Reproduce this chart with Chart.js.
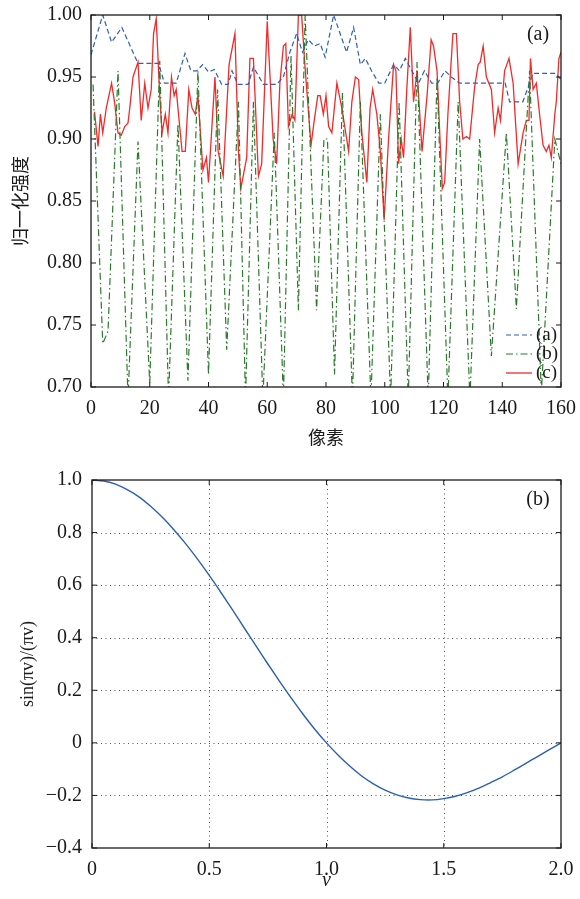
<!DOCTYPE html>
<html>
<head>
<meta charset="utf-8">
<script src="https://cdn.jsdelivr.net/npm/chart.js@4"></script>
<style>
  body { margin: 0; background: #fff; }
  .box { position: absolute; left: 0; }
</style>
</head>
<body>
<div class="box" style="top:0"><canvas id="topChart" width="580" height="450"></canvas></div>
<div class="box" style="top:450px"><canvas id="botChart" width="580" height="449"></canvas></div>
<script>
// (a) blue dashed
const aX = [0,4,7,10.5,16,23,25,29,32,34,36,38,40,42,44.5,46.7,48,50,53.5,55.3,58.7,63.2,65.5,67.7,70,72,74,76,78,79.7,82.6,87,89.4,91.7,93.4,95.5,98,100,103,105,107,111.5,113.5,116,118,120.5,122.7,125.5,141,142.5,147,149.3,150.5,158,160];
const aY = [0.968,1.0,0.978,0.99,0.961,0.961,0.945,0.945,0.969,0.955,0.955,0.96,0.954,0.956,0.944,0.944,0.955,0.944,0.944,0.958,0.944,0.944,0.95,0.97,0.985,0.97,0.98,0.975,0.977,0.966,1.0,0.97,0.99,0.96,0.965,0.955,0.945,0.945,0.96,0.955,0.965,0.945,0.955,0.945,0.945,0.955,0.95,0.945,0.945,0.93,0.93,0.945,0.953,0.953,0.948];
// (b) green dash-dot
const bX = [0.7,4,5.8,9.2,12.6,16,20,23.4,26.4,29.6,33,36.4,40,43.1,46.2,50.2,52.6,55.3,58.5,62.4,65.5,68.1,70.6,72.9,76.8,79.3,80.5,82.9,85.6,89,91.7,95.3,98.5,102,104.9,108,111,114.8,117.8,121.5,125,129,132.3,136.3,141.4,144.8,149.3,153.3,157.9,160];
const bY = [0.944,0.735,0.745,0.955,0.69,0.898,0.703,0.963,0.69,0.912,0.705,0.955,0.71,0.94,0.73,0.93,0.69,0.93,0.69,0.905,0.69,0.967,0.762,1.0,0.762,0.9,0.9,0.71,0.937,0.69,0.93,0.69,0.92,0.69,0.93,0.69,0.962,0.69,0.95,0.69,0.93,0.69,0.9,0.725,0.905,0.763,0.955,0.695,0.9,0.88];
// (c) red solid
const cX = [1.2,2.4,3.2,4,5.2,7,8,9.2,10.3,11.5,12.6,13.2,14.3,16,17.1,18.3,19.4,20.5,21.3,22.2,23.4,24.2,25.3,26.2,27.4,28.3,29,31,32.1,33.3,34.4,35.5,36.4,38.1,39.3,40,42.2,43.3,45,47,49,50.2,51,53,54.1,55.3,57,58.1,60,62,63.2,64.3,65.5,66.3,67.2,68.5,69.4,70.6,71.7,72.8,74.9,76,77.2,78,79.1,80,80.9,82,83.7,85.4,87.7,88.8,90,91.1,92.2,93.9,95,95.9,97.3,98.5,99.8,101.3,103,103.8,104.7,105.6,106.4,107.5,108.7,109.8,111,112.7,114.4,115.8,116.6,117.8,118.9,119.6,120.4,121.5,123.2,124.4,125.5,126.6,127.8,128.9,130.6,131.8,132.5,133.5,134.6,136.3,137.4,138.6,139.4,140.8,142.3,143.7,145.4,147.1,148.2,149.1,149.6,150.5,151.6,152.7,153.9,155,155.9,156.7,157.9,158.4,159.3,160];
const cY = [0.922,0.894,0.92,0.905,0.925,0.945,0.93,0.905,0.903,0.91,0.913,0.925,0.95,0.962,0.915,0.945,0.925,0.94,0.985,0.997,0.935,0.905,0.92,0.905,0.95,0.935,0.94,0.89,0.89,0.94,0.925,0.92,0.935,0.875,0.885,0.865,0.95,0.89,0.87,0.96,0.985,0.89,0.86,0.885,0.965,0.965,0.87,0.88,0.995,0.9,0.88,0.945,0.975,0.977,0.91,0.92,0.915,1.0,1.0,0.96,0.895,0.915,0.935,0.935,0.92,0.935,0.91,0.905,0.945,0.925,0.89,0.93,0.95,0.948,0.905,0.865,0.925,0.94,0.92,0.89,0.835,0.9,0.96,0.955,0.88,0.9,0.885,0.94,0.99,0.93,0.955,0.89,0.935,0.98,0.975,0.955,0.895,0.86,0.865,0.92,0.985,0.985,0.93,0.9,0.902,0.9,0.942,0.96,0.962,0.975,0.95,0.94,0.905,0.925,0.915,0.955,0.965,0.945,0.88,0.905,0.915,0.915,0.965,0.94,0.945,0.92,0.895,0.89,0.895,0.885,0.92,0.93,0.965,0.97];
const seriesLabels = ['(a)', '(b)', '(c)'];
const topXTicks = [0,20,40,60,80,100,120,140,160];
const topYTicks = [0.70,0.75,0.80,0.85,0.90,0.95,1.00];

// bottom panel: sin(πv)/(πv)
const vVals = [0,0.05,0.1,0.15,0.2,0.25,0.3,0.35,0.4,0.45,0.5,0.55,0.6,0.65,0.7,0.75,0.8,0.85,0.9,0.95,1.0,1.05,1.1,1.15,1.2,1.25,1.3,1.35,1.4,1.45,1.5,1.55,1.6,1.65,1.7,1.75,1.8,1.85,1.9,1.95,2.0];
const sincVals = [1,0.996,0.984,0.963,0.936,0.900,0.858,0.810,0.757,0.699,0.637,0.572,0.505,0.436,0.368,0.300,0.234,0.170,0.109,0.052,0,-0.047,-0.089,-0.126,-0.156,-0.180,-0.198,-0.210,-0.216,-0.217,-0.212,-0.203,-0.189,-0.172,-0.151,-0.129,-0.104,-0.078,-0.052,-0.026,0];
const botXTicks = [0,0.5,1.0,1.5,2.0];
const botYTicks = [-0.4,-0.2,0,0.2,0.4,0.6,0.8,1.0];

const serif = "'Liberation Serif', 'DejaVu Serif', serif";
const cjk = "'Noto Sans CJK SC', sans-serif";
const ink = '#1a1a1a';

function pts(xs, ys) {
  return xs.map((x, i) => ({ x: x, y: ys[i] }));
}

function fixedTicks(list) {
  return function(scale) {
    scale.ticks = list.map(v => ({ value: v }));
  };
}

function numLabel(dec) {
  return function(v) {
    if (dec === 1 && Math.abs(v) < 1e-9) return '0';
    const s = Number(v).toFixed(dec);
    return s.replace('-', '\u2212');
  };
}

// fix axis box sizes and drop label-overflow padding so the plot box lands exactly
function fitX(h) {
  return function(s) { s.height = h; s.paddingLeft = 0; s.paddingRight = 0; };
}
function fitY(w) {
  return function(s) { s.width = w; s.paddingTop = 0; s.paddingBottom = 0; };
}

// frame, inward ticks, optional dotted grid, panel tag and inline legend
const framePlugin = {
  id: 'frame',
  beforeDatasetsDraw(chart, args, opts) {
    if (!opts.grid) return;
    const ctx = chart.ctx;
    const ca = chart.chartArea;
    const xs = chart.scales.x, ys = chart.scales.y;
    ctx.save();
    ctx.strokeStyle = '#555';
    ctx.lineWidth = 1;
    ctx.setLineDash([1, 3.5]);
    xs.ticks.forEach(t => {
      if (t.value <= xs.min || t.value >= xs.max) return;
      const px = Math.round(xs.getPixelForValue(t.value)) + 0.5;
      ctx.beginPath(); ctx.moveTo(px, ca.top); ctx.lineTo(px, ca.bottom); ctx.stroke();
    });
    ys.ticks.forEach(t => {
      if (t.value <= ys.min || t.value >= ys.max) return;
      const py = Math.round(ys.getPixelForValue(t.value)) + 0.5;
      ctx.beginPath(); ctx.moveTo(ca.left, py); ctx.lineTo(ca.right, py); ctx.stroke();
    });
    ctx.restore();
  },
  afterDraw(chart, args, opts) {
    const ctx = chart.ctx;
    const ca = chart.chartArea;
    const xs = chart.scales.x, ys = chart.scales.y;
    const tl = 5;
    ctx.save();
    ctx.strokeStyle = ink;
    ctx.lineWidth = 1.3;
    ctx.strokeRect(ca.left, ca.top, ca.right - ca.left, ca.bottom - ca.top);
    ctx.lineWidth = 1;
    xs.ticks.forEach(t => {
      const px = xs.getPixelForValue(t.value);
      ctx.beginPath();
      ctx.moveTo(px, ca.bottom); ctx.lineTo(px, ca.bottom - tl);
      ctx.moveTo(px, ca.top); ctx.lineTo(px, ca.top + tl);
      ctx.stroke();
    });
    ys.ticks.forEach(t => {
      const py = ys.getPixelForValue(t.value);
      ctx.beginPath();
      ctx.moveTo(ca.left, py); ctx.lineTo(ca.left + tl, py);
      ctx.moveTo(ca.right, py); ctx.lineTo(ca.right - tl, py);
      ctx.stroke();
    });

    ctx.fillStyle = ink;
    ctx.font = '20px ' + serif;
    ctx.textAlign = 'center';
    ctx.textBaseline = 'middle';
    if (opts.tag) ctx.fillText(opts.tag, ca.right - 23, ca.top + 20);

    if (opts.legend) {
      ctx.font = '19px ' + serif;
      ctx.textAlign = 'left';
      chart.data.datasets.forEach((ds, i) => {
        const y = ca.bottom - 52 + i * 19;
        ctx.save();
        ctx.strokeStyle = ds.borderColor;
        ctx.lineWidth = ds.borderWidth;
        ctx.setLineDash(ds.borderDash || []);
        ctx.beginPath(); ctx.moveTo(ca.right - 55, y); ctx.lineTo(ca.right - 29, y); ctx.stroke();
        ctx.restore();
        ctx.fillText(ds.label, ca.right - 25, y);
      });
    }
    ctx.restore();
  }
};

new Chart(document.getElementById('topChart'), {
  type: 'line',
  data: {
    datasets: [
      { label: seriesLabels[0], data: pts(aX, aY), borderColor: '#2f5fb3', borderWidth: 1.2, borderDash: [5, 3] },
      { label: seriesLabels[1], data: pts(bX, bY), borderColor: '#2b7a2b', borderWidth: 1.2, borderDash: [7, 3, 1.5, 3] },
      { label: seriesLabels[2], data: pts(cX, cY), borderColor: '#f22a2a', borderWidth: 1.3 }
    ]
  },
  options: {
    responsive: false,
    animation: false,
    layout: { padding: { top: 15, right: 19, left: 0, bottom: 0 } },
    elements: { point: { radius: 0 }, line: { tension: 0 } },
    plugins: {
      legend: { display: false },
      tooltip: { enabled: false },
      frame: { tag: '(a)', legend: true, grid: false }
    },
    scales: {
      x: {
        type: 'linear', min: 0, max: 160,
        afterBuildTicks: fixedTicks(topXTicks),
        afterFit: fitX(63),
        grid: { display: false, drawTicks: false },
        border: { display: false },
        ticks: { color: ink, font: { family: serif, size: 20 }, padding: 10, maxRotation: 0, autoSkip: false, callback: v => String(v) },
        title: { display: true, text: '像素', color: ink, font: { family: cjk, size: 18 }, padding: { top: 0, bottom: 2 } }
      },
      y: {
        min: 0.7, max: 1.0,
        afterBuildTicks: fixedTicks(topYTicks),
        afterFit: fitY(91),
        grid: { display: false, drawTicks: false },
        border: { display: false },
        ticks: { color: ink, font: { family: serif, size: 20 }, padding: 9, autoSkip: false, callback: numLabel(2) },
        title: { display: true, text: '归一化强度', color: ink, font: { family: cjk, size: 18 }, padding: { top: 9, bottom: 0 } }
      }
    }
  },
  plugins: [framePlugin]
});

new Chart(document.getElementById('botChart'), {
  type: 'line',
  data: {
    datasets: [
      { label: 'sinc', data: pts(vVals, sincVals), borderColor: '#2b5fb3', borderWidth: 1.4 }
    ]
  },
  options: {
    responsive: false,
    animation: false,
    layout: { padding: { top: 30, right: 19, left: 0, bottom: 0 } },
    elements: { point: { radius: 0 }, line: { tension: 0.3 } },
    plugins: {
      legend: { display: false },
      tooltip: { enabled: false },
      frame: { tag: '(b)', legend: false, grid: true }
    },
    scales: {
      x: {
        type: 'linear', min: 0, max: 2,
        afterBuildTicks: fixedTicks(botXTicks),
        afterFit: fitX(51),
        grid: { display: false, drawTicks: false },
        border: { display: false },
        ticks: { color: ink, font: { family: serif, size: 20 }, padding: 10, maxRotation: 0, autoSkip: false, callback: numLabel(1) },
        title: { display: true, text: 'v', color: ink, font: { family: serif, size: 20, style: 'italic' }, padding: { top: 0, bottom: 6 } }
      },
      y: {
        min: -0.4, max: 1.0,
        afterBuildTicks: fixedTicks(botYTicks),
        afterFit: fitY(92),
        grid: { display: false, drawTicks: false },
        border: { display: false },
        ticks: { color: ink, font: { family: serif, size: 20 }, padding: 10, autoSkip: false, callback: numLabel(1) },
        title: { display: true, text: 'sin(πv)/(πv)', color: ink, font: { family: serif, size: 18 }, padding: { top: 17, bottom: 0 } }
      }
    }
  },
  plugins: [framePlugin]
});
</script>
</body>
</html>
